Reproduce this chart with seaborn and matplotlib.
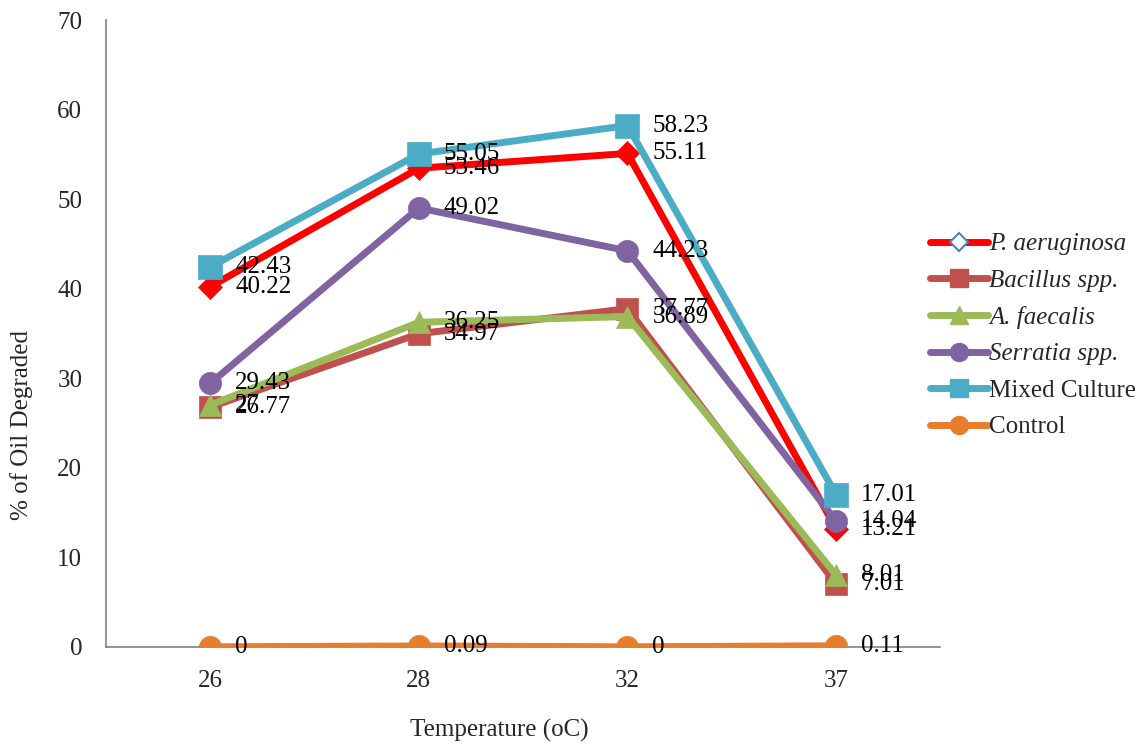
import matplotlib
matplotlib.use("Agg")
import matplotlib.pyplot as plt
from matplotlib.lines import Line2D
import seaborn as sns
import pandas as pd

temperatures = ["26", "28", "32", "37"]
p_aeruginosa = [40.22, 53.46, 55.11, 13.21]
bacillus = [26.77, 34.97, 37.77, 7.01]
a_faecalis = [27, 36.25, 36.89, 8.01]
serratia = [29.43, 49.02, 44.23, 14.04]
mixed_culture = [42.43, 55.05, 58.23, 17.01]
control = [0, 0.09, 0, 0.11]

series_names = ["P. aeruginosa", "Bacillus spp.", "A. faecalis",
                "Serratia spp.", "Mixed Culture", "Control"]
series_values = [p_aeruginosa, bacillus, a_faecalis, serratia, mixed_culture, control]
colors = ["#FF0000", "#C0504D", "#9BBB59", "#8064A2", "#4BACC6", "#E67E2E"]
marker_shapes = ["D", "s", "^", "o", "s", "o"]
marker_sizes = [12, 16, 16, 16, 17, 16]
italic = [True, True, True, True, False, False]

rows = []
for name, vals in zip(series_names, series_values):
    for i, v in enumerate(vals):
        rows.append({"series": name, "pos": i, "value": v})
df = pd.DataFrame(rows)

sns.set_style("white")
plt.rcParams["font.family"] = ["Liberation Serif", "DejaVu Serif"]
FS = 18

fig = plt.figure(figsize=(11.43, 7.46), dpi=100)
ax = fig.add_axes([0.0927, 0.133, 0.730, 0.840])

for name, col, mk, ms in zip(series_names, colors, marker_shapes, marker_sizes):
    sub = df[df["series"] == name]
    sns.lineplot(data=sub, x="pos", y="value", ax=ax, color=col, linewidth=5,
                 marker=mk, markersize=ms, markeredgecolor=col,
                 markeredgewidth=0.5, legend=False, zorder=3)

for name, vals in zip(series_names, series_values):
    for i, v in enumerate(vals):
        label = f"{v:g}"
        ax.annotate(label, (i, v), xytext=(18, 0), textcoords="offset points",
                    ha="left", va="center", fontsize=FS, color="black", zorder=5)

ax.set_xlim(-0.5, 3.5)
ax.set_ylim(0, 70)
ax.set_yticks(range(0, 71, 10))
ax.set_xticks(range(len(temperatures)))
ax.set_xticklabels(temperatures)
ax.set_xticks([0.5, 1.5, 2.5], minor=True)
ax.tick_params(axis="x", which="major", length=0, pad=17, labelsize=FS)
ax.tick_params(axis="x", which="minor", length=5, direction="out", color="#808080", width=1)
ax.tick_params(axis="y", which="major", length=6, direction="out", color="#808080",
               width=1, labelsize=FS, pad=11)

for side in ["top", "right"]:
    ax.spines[side].set_visible(False)
for side in ["left", "bottom"]:
    ax.spines[side].set_color("#808080")
    ax.spines[side].set_linewidth(1.2)
ax.spines["bottom"].set_zorder(1)

ax.set_xlabel("Temperature (oC)", fontsize=FS)
ax.set_ylabel("% of Oil Degraded", fontsize=FS)
ax.xaxis.set_label_coords(0.472, -0.133)
ax.xaxis.label.set_va("center")
ax.yaxis.set_label_coords(-0.101, 0.354)
ax.yaxis.label.set_va("center")

handles = []
for name, col, mk in zip(series_names, colors, marker_shapes):
    if name == "P. aeruginosa":
        h = Line2D([], [], color=col, linewidth=5, marker="D", markersize=9,
                   markerfacecolor="white", markeredgecolor="#4F81BD",
                   markeredgewidth=1.5)
    else:
        h = Line2D([], [], color=col, linewidth=5, marker=mk, markersize=13,
                   markeredgecolor=col)
    handles.append(h)

leg = fig.legend(handles, series_names, loc="upper left",
                 bbox_to_anchor=(0.814, 0.688), frameon=False, fontsize=FS,
                 handlelength=2.3, handletextpad=0.05, labelspacing=0.56,
                 borderaxespad=0, borderpad=0)
for txt, it in zip(leg.get_texts(), italic):
    if it:
        txt.set_fontstyle("italic")

fig.savefig("out.png", dpi=100)
